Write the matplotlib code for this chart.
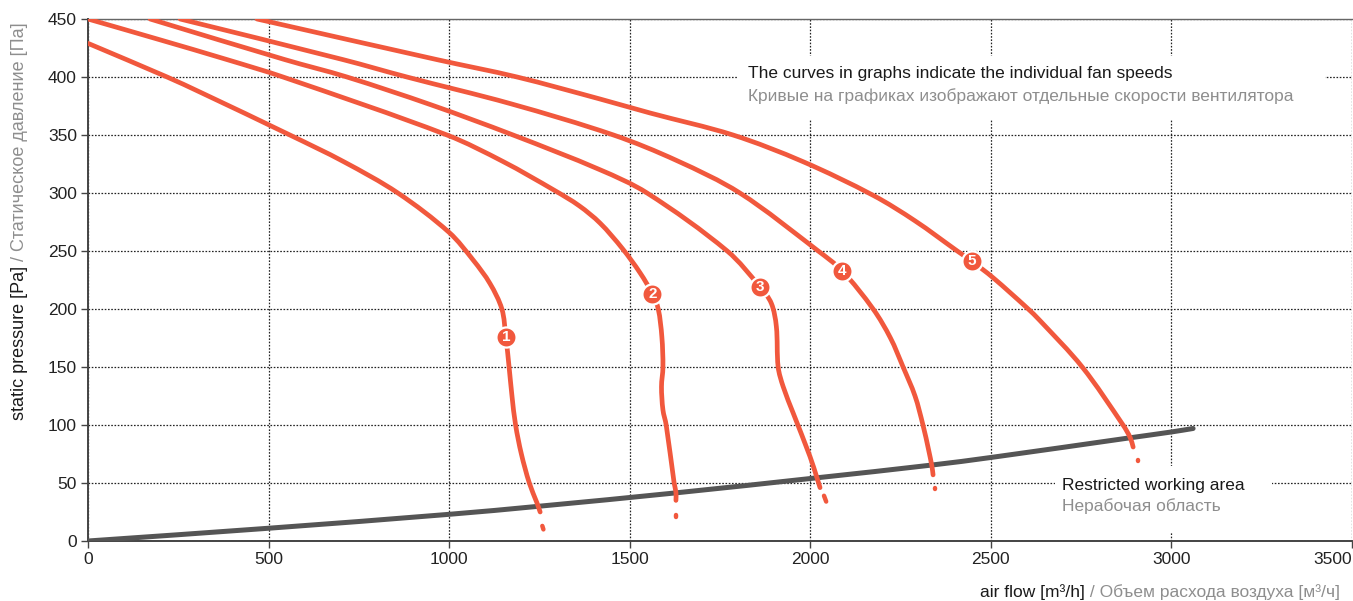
import matplotlib
matplotlib.use("Agg")
import numpy as np
import matplotlib.pyplot as plt
from matplotlib.patches import Rectangle, PathPatch
from matplotlib.path import Path

plt.rcParams['font.family'] = ['Liberation Sans', 'DejaVu Sans']

# ---- data ----
c1_x = [0, 219, 310, 559, 708, 858, 1000, 1067, 1113, 1146, 1157, 1166, 1174, 1184, 1200, 1222, 1243, 1252]
c1_y = [429, 400, 387, 350, 327, 300, 266, 242, 222, 200, 176, 150, 125, 100, 75, 50, 33, 25]
c2_x = [0, 200, 385, 540, 994, 1150, 1293, 1360, 1418, 1480, 1529, 1563, 1579, 1589, 1592, 1588, 1592, 1601, 1623, 1628, 1628]
c2_y = [450, 432, 415, 400, 350, 327, 302, 289, 274, 252, 231, 213, 200, 176, 150, 133, 113, 100, 50, 42, 35]
c3_x = [172, 545, 717, 950, 1177, 1418, 1548, 1770, 1861, 1892, 1906, 1911, 1925, 1953, 1999, 2019, 2023, 2027]
c3_y = [450, 415, 400, 376, 350, 320, 300, 250, 219, 205, 185, 150, 133, 110, 73, 54, 50, 46]
c4_x = [255, 706, 883, 1170, 1455, 1630, 1805, 2022, 2088, 2174, 2222, 2257, 2290, 2312, 2328, 2337, 2340]
c4_y = [450, 415, 400, 377, 350, 328, 300, 250, 233, 200, 175, 150, 125, 100, 78, 64, 57]
c5_x = [468, 966, 1188, 1418, 1556, 1786, 1980, 2174, 2290, 2407, 2448, 2506, 2600, 2636, 2753, 2866, 2886, 2894]
c5_y = [450, 415, 400, 381, 369, 350, 327, 298, 276, 250, 241, 227, 201, 190, 150, 100, 89, 81]
curves_x = [c1_x, c2_x, c3_x, c4_x, c5_x]
curves_y = [c1_y, c2_y, c3_y, c4_y, c5_y]

# small trailing marks below each curve end
tail_x = [[1258, 1261], [1628, 1628], [2038, 2044], [2346, 2346], [2908, 2908]]
tail_y = [[13, 10], [22, 21], [39, 34], [46, 45], [70, 69]]

# speed labels on curves
lab_names = ['1', '2', '3', '4', '5']
lab_x = [1157, 1563, 1861, 2088, 2448]
lab_y = [176, 213, 219, 233, 241]

# restricted working area boundary
area_x = [0, 500, 1000, 1250, 1628, 2019, 2337, 2500, 2886, 3000, 3060]
area_y = [0, 11, 23, 30, 41.5, 54.5, 65.5, 72, 89, 94, 97]

x_ticks = [0, 500, 1000, 1500, 2000, 2500, 3000, 3500]
y_ticks = [0, 50, 100, 150, 200, 250, 300, 350, 400, 450]

RED = '#f1583d'
DARK = '#555555'
GREY_TXT = '#8e8e8e'
FS = 12.5


def smooth_path(xs, ys, sx=0.361, sy=1.16):
    """Bezier path through the given points (rendering only)."""
    p = np.column_stack([xs, ys]).astype(float)
    q = p * [sx, sy]
    n = len(p)
    d = np.hypot(*np.diff(q, axis=0).T)
    verts = [p[0]]
    codes = [Path.MOVETO]
    for i in range(n - 1):
        p1, p2 = p[i], p[i + 1]
        if i > 0:
            t1 = (p2 - p[i - 1]) * d[i] / (d[i - 1] + d[i])
        else:
            t1 = (p2 - p1)
        if i + 2 < n:
            t2 = (p[i + 2] - p1) * d[i] / (d[i] + d[i + 1])
        else:
            t2 = (p2 - p1)
        verts += [p1 + t1 / 3, p2 - t2 / 3, p2]
        codes += [Path.CURVE4] * 3
    return Path(verts, codes)


W, H = 1353, 601
fig = plt.figure(figsize=(W / 100, H / 100), dpi=100)
ax = fig.add_axes([88 / W, 60 / H, (1352 - 88) / W, (541 - 19) / H])
ax.set_xlim(0, 3500)
ax.set_ylim(0, 450)
ax.set_xticks(x_ticks)
ax.set_yticks(y_ticks)
ax.tick_params(direction='out', length=5, width=1, color='#444444',
               labelsize=FS, labelcolor='#222222', pad=3)
ax.get_xticklabels()[-1].set_horizontalalignment('right')
ax.set_axisbelow(True)
ax.grid(True, linestyle=(0, (1.3, 1.3)), color='#222222', linewidth=0.9)
for s in ['left', 'bottom']:
    ax.spines[s].set_color('#444444')
    ax.spines[s].set_linewidth(1.4)
ax.spines['top'].set_color('#666666')
ax.spines['top'].set_linewidth(1.0)
ax.spines['right'].set_visible(False)

# white backgrounds behind the annotations (they hide the grid)
ax.add_patch(Rectangle((1800, 363), 1626, 55, facecolor='white', edgecolor='none', zorder=1))
ax.add_patch(Rectangle((2678, 7), 600, 58, facecolor='white', edgecolor='none', zorder=1))

ax.add_patch(PathPatch(smooth_path(area_x, area_y), fill=False, edgecolor=DARK,
                       lw=3.6, capstyle='round', joinstyle='round', zorder=3))

for cx, cy in zip(curves_x, curves_y):
    ax.add_patch(PathPatch(smooth_path(cx, cy), fill=False, edgecolor=RED,
                           lw=3.4, capstyle='round', joinstyle='round', zorder=4))
for tx, ty in zip(tail_x, tail_y):
    ax.plot(tx, ty, color=RED, lw=3.2, solid_capstyle='round', zorder=4)

for n, lx, ly in zip(lab_names, lab_x, lab_y):
    ax.plot(lx, ly, 'o', ms=14.5, mfc=RED, mec='white', mew=1.6, zorder=5)
    ax.text(lx, ly, n, color='white', fontsize=11, fontweight='bold',
            ha='center', va='center', zorder=6)

ax.text(1828, 403, 'The curves in graphs indicate the individual fan speeds',
        fontsize=FS, color='#1a1a1a', ha='left', va='center', zorder=6)
ax.text(1828, 383.5, 'Кривые на графиках изображают отдельные скорости вентилятора',
        fontsize=FS, color=GREY_TXT, ha='left', va='center', zorder=6)
ax.text(2697, 48, 'Restricted working area',
        fontsize=FS, color='#1a1a1a', ha='left', va='center', zorder=6)
ax.text(2697, 30, 'Нерабочая область',
        fontsize=FS, color=GREY_TXT, ha='left', va='center', zorder=6)

# axis titles (two colours)
xl1 = fig.text(980 / W, (601 - 592) / H, 'air flow [m³/h]', fontsize=FS,
               color='#1a1a1a', ha='left', va='center')
ax.annotate(' / Объем расхода воздуха [м³/ч]', xy=(1, 0), xycoords=xl1,
            ha='left', va='bottom', fontsize=FS, color=GREY_TXT,
            annotation_clip=False)
yl1 = fig.text(20 / W, (601 - 420) / H, 'static pressure [Pa]', fontsize=13,
               color='#1a1a1a', ha='center', va='bottom', rotation=90)
ax.annotate(' / Статическое давление [Па]', xy=(0.5, 1), xycoords=yl1,
            ha='center', va='bottom', rotation=90, fontsize=13, color=GREY_TXT,
            annotation_clip=False)

fig.savefig('out.png', dpi=100)
